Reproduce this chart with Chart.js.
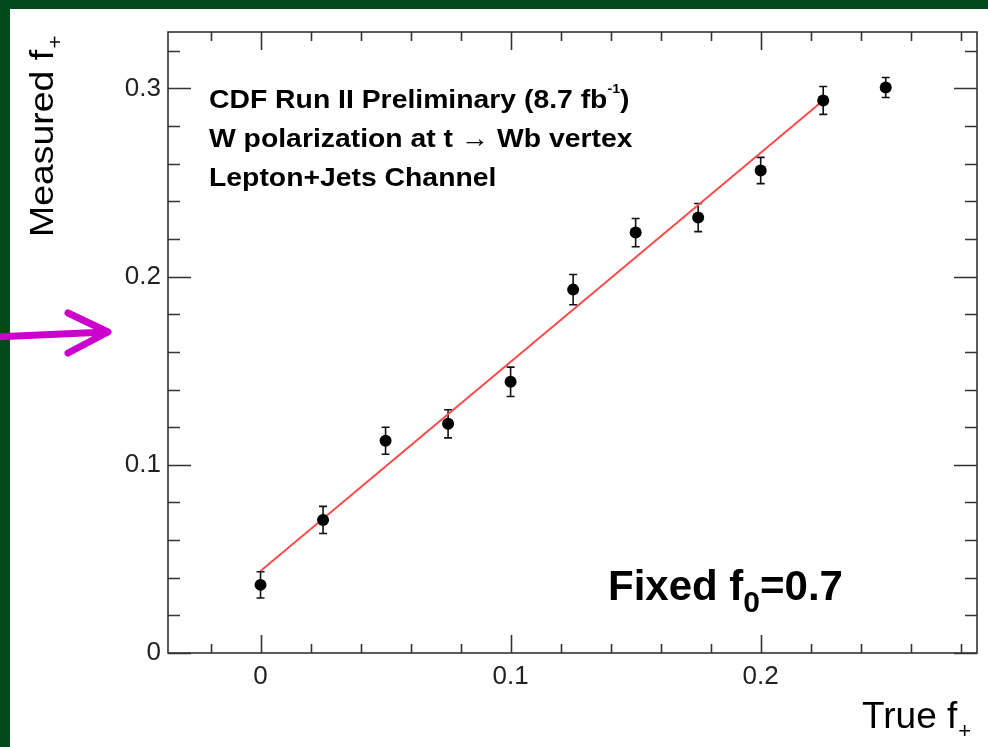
<!DOCTYPE html>
<html><head><meta charset="utf-8">
<script src="https://cdn.jsdelivr.net/npm/chart.js@4.4.0/dist/chart.umd.min.js"></script>
<style>html,body{margin:0;padding:0;background:#fff;overflow:hidden}canvas{display:block}</style>
</head><body>
<canvas id="c" width="988" height="747"></canvas>
<script>
// ---- data ----
const trueF = [0, 0.025, 0.05, 0.075, 0.1, 0.125, 0.15, 0.175, 0.2, 0.225, 0.25];
const measuredF = [0.0362, 0.0707, 0.1128, 0.1218, 0.1441, 0.1931, 0.2234, 0.2314, 0.2564, 0.2936, 0.3005];
const measuredErr = [0.0070, 0.0072, 0.0072, 0.0075, 0.0078, 0.0080, 0.0075, 0.0075, 0.0070, 0.0074, 0.0053];
const fitX = [0, 0.225];
const fitY = [0.0436, 0.2936];
const xTickValues = [0, 0.1, 0.2];
const xTickText = ['0', '0.1', '0.2'];
const yTickValues = [0, 0.1, 0.2, 0.3];
const yTickText = ['0', '0.1', '0.2', '0.3'];

const FONT = '"Liberation Sans", Arial, Helvetica, sans-serif';
const GREEN = '#024a1c';

function richText(ctx, x, y, parts, sx) {
  sx = sx || 1;
  ctx.save();
  ctx.translate(x, y);
  ctx.scale(sx, 1);
  let cx = 0;
  for (const p of parts) {
    ctx.font = p.f;
    ctx.fillText(p.t, cx, (p.dy || 0));
    cx += ctx.measureText(p.t).width + (p.gap || 0);
  }
  ctx.restore();
}

const framePlugin = {
  id: 'frame',
  beforeDraw(chart) {
    const ctx = chart.ctx;
    ctx.save();
    ctx.fillStyle = '#fff';
    ctx.fillRect(0, 0, chart.width, chart.height);
    ctx.fillStyle = GREEN;
    ctx.fillRect(0, 0, chart.width, 9);
    ctx.fillRect(0, 0, 10, chart.height);
    ctx.restore();
  },
  beforeDatasetsDraw(chart) {
    const ctx = chart.ctx, xs = chart.scales.x, ys = chart.scales.y;
    ctx.save();
    ctx.strokeStyle = '#111';
    ctx.lineWidth = 1.6;
    for (let i = 0; i < trueF.length; i++) {
      const px = xs.getPixelForValue(trueF[i]);
      const y1 = ys.getPixelForValue(measuredF[i] + measuredErr[i]);
      const y2 = ys.getPixelForValue(measuredF[i] - measuredErr[i]);
      ctx.beginPath();
      ctx.moveTo(px, y1); ctx.lineTo(px, y2);
      ctx.moveTo(px - 4, y1); ctx.lineTo(px + 4, y1);
      ctx.moveTo(px - 4, y2); ctx.lineTo(px + 4, y2);
      ctx.stroke();
    }
    ctx.restore();
  },
  afterDraw(chart) {
    const ctx = chart.ctx, xs = chart.scales.x, ys = chart.scales.y;
    const a = chart.chartArea;
    ctx.save();
    // frame
    ctx.strokeStyle = '#333';
    ctx.lineWidth = 1.6;
    ctx.strokeRect(a.left, a.top, a.right - a.left, a.bottom - a.top);
    // ticks
    ctx.beginPath();
    for (let k = -2; k <= 28; k += 2) {
      const v = k / 100;
      if (v < xs.min || v > xs.max) continue;
      const major = k % 10 === 0;
      const L = major ? 18 : 9;
      const px = Math.round(xs.getPixelForValue(v)) + 0.5;
      ctx.moveTo(px, a.bottom); ctx.lineTo(px, a.bottom - L);
      ctx.moveTo(px, a.top); ctx.lineTo(px, a.top + L);
    }
    for (let k = 0; k <= 32; k += 2) {
      const v = k / 100;
      if (v < ys.min || v > ys.max) continue;
      const major = k % 10 === 0;
      const L = major ? 23 : 12;
      const py = Math.round(ys.getPixelForValue(v)) + 0.5;
      ctx.moveTo(a.left, py); ctx.lineTo(a.left + L, py);
      ctx.moveTo(a.right, py); ctx.lineTo(a.right - L, py);
    }
    ctx.stroke();

    // annotations
    ctx.fillStyle = '#000';
    ctx.textBaseline = 'alphabetic';
    ctx.textAlign = 'left';
    const bf = 'bold 26px ' + FONT;
    richText(ctx, 209, 108, [
      { t: 'CDF Run II Preliminary (8.7 fb', f: bf },
      { t: '-1', f: 'bold 13px ' + FONT, dy: -15 },
      { t: ')', f: bf }
    ], 1.09);
    richText(ctx, 209, 147, [{ t: 'W polarization at t \u2192 Wb vertex', f: bf }], 1.09);
    richText(ctx, 209, 186, [{ t: 'Lepton+Jets Channel', f: bf }], 1.09);
    richText(ctx, 608, 600, [
      { t: 'Fixed f', f: 'bold 42px ' + FONT },
      { t: '0', f: 'bold 30px ' + FONT, dy: 12 },
      { t: '=0.7', f: 'bold 42px ' + FONT }
    ]);
    // x title
    richText(ctx, 862, 728, [
      { t: 'True f', f: '37px ' + FONT, gap: 1 },
      { t: '+', f: '22px ' + FONT, dy: 10 }
    ]);
    // y title
    ctx.save();
    ctx.translate(53, 237);
    ctx.rotate(-Math.PI / 2);
    richText(ctx, 0, 0, [
      { t: 'Measured f', f: '34px ' + FONT, gap: 1 },
      { t: '+', f: '21px ' + FONT, dy: 9 }
    ], 1.1);
    ctx.restore();

    // magenta arrow
    ctx.strokeStyle = '#cc00cc';
    ctx.lineWidth = 7;
    ctx.lineCap = 'round';
    ctx.lineJoin = 'round';
    ctx.beginPath();
    ctx.moveTo(-5, 337); ctx.lineTo(106, 332);
    ctx.moveTo(68, 313); ctx.lineTo(108, 332); ctx.lineTo(68, 353);
    ctx.stroke();
    ctx.restore();
  }
};

new Chart(document.getElementById('c'), {
  type: 'scatter',
  data: {
    datasets: [
      {
        label: 'Measured',
        data: trueF.map((x, i) => ({ x: x, y: measuredF[i] })),
        pointRadius: 6,
        pointHoverRadius: 6,
        backgroundColor: '#000',
        borderWidth: 0
      },
      {
        label: 'Fit',
        data: fitX.map((x, i) => ({ x: x, y: fitY[i] })),
        showLine: true,
        pointRadius: 0,
        borderColor: '#ff4a4a',
        borderWidth: 2
      }
    ]
  },
  options: {
    responsive: false,
    devicePixelRatio: 1,
    animation: false,
    events: [],
    layout: { padding: { top: 32, right: 11, left: 0, bottom: 0 } },
    plugins: { legend: { display: false }, tooltip: { enabled: false } },
    scales: {
      x: {
        type: 'linear',
        min: -0.037,
        max: 0.2865,
        grid: { display: false, drawTicks: false },
        border: { display: false },
        afterBuildTicks(s) { s.ticks = xTickValues.map(v => ({ value: v })); },
        afterFit(s) { s.height = 94; },
        ticks: {
          padding: 8,
          color: '#222',
          font: { family: FONT, size: 26 },
          maxRotation: 0,
          autoSkip: false,
          callback: (v, i) => xTickText[i]
        }
      },
      y: {
        type: 'linear',
        min: 0,
        max: 0.33,
        grid: { display: false, drawTicks: false },
        border: { display: false },
        afterBuildTicks(s) { s.ticks = yTickValues.map(v => ({ value: v })); },
        afterFit(s) { s.width = 168; },
        ticks: {
          padding: 7,
          color: '#222',
          font: { family: FONT, size: 26 },
          autoSkip: false,
          callback: (v, i) => yTickText[i]
        }
      }
    }
  },
  plugins: [framePlugin]
});
</script></body></html>
